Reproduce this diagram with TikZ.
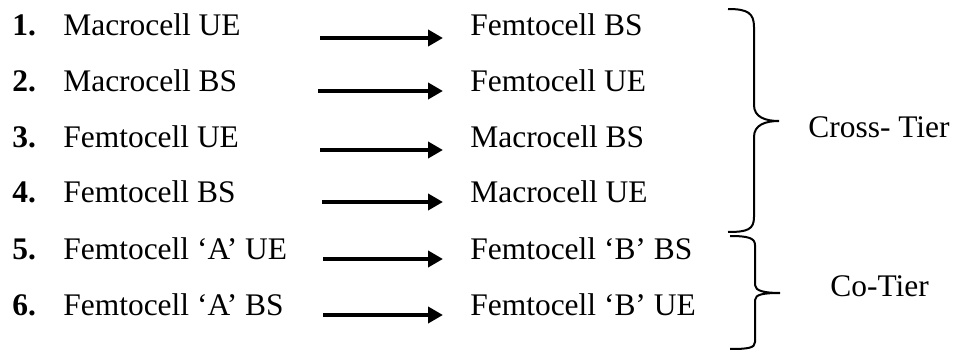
\documentclass[tikz,border=0pt]{standalone}
\usepackage{fontspec}
\setmainfont{Liberation Serif}
\usepackage{tikz}
\usetikzlibrary{arrows.meta}

\begin{document}
\begin{tikzpicture}[
    every node/.style={inner sep=0pt, font=\fontsize{17.9}{21}\selectfont},
    num/.style={anchor=base west, font=\fontsize{17.9}{21}\selectfont\bfseries},
    item/.style={anchor=base west},
    link/.style={line width=0.08cm, -{Triangle[length=0.3cm,width=0.32cm]}, shorten >=0.54cm},
    tier/.style={line width=0.04cm}
  ]
  \useasboundingbox (0,0) rectangle (19.1,7.04);

  % interferer side
  \node[num]  (n1) at (0.24,6.32) {1.};
  \node[item] (src1) at (1.26,6.32) {Macrocell UE};
  \node[num]  (n2) at (0.24,5.20) {2.};
  \node[item] (src2) at (1.26,5.20) {Macrocell BS};
  \node[num]  (n3) at (0.24,4.08) {3.};
  \node[item] (src3) at (1.26,4.08) {Femtocell UE};
  \node[num]  (n4) at (0.24,2.98) {4.};
  \node[item] (src4) at (1.26,2.98) {Femtocell BS};
  \node[num]  (n5) at (0.24,1.84) {5.};
  \node[item] (src5) at (1.26,1.84) {Femtocell `A' UE};
  \node[num]  (n6) at (0.24,0.72) {6.};
  \node[item] (src6) at (1.26,0.72) {Femtocell `A' BS};

  % victim side
  \node[item] (dst1) at (9.4,6.32) {Femtocell BS};
  \node[item] (dst2) at (9.4,5.20) {Femtocell UE};
  \node[item] (dst3) at (9.4,4.08) {Macrocell BS};
  \node[item] (dst4) at (9.4,2.98) {Macrocell UE};
  \node[item] (dst5) at (9.4,1.84) {Femtocell `B' BS};
  \node[item] (dst6) at (9.4,0.72) {Femtocell `B' UE};

  % arrows
  \coordinate (s1) at (6.40,6.28);
  \coordinate (s2) at (6.36,5.22);
  \coordinate (s3) at (6.40,4.04);
  \coordinate (s4) at (6.44,3.00);
  \coordinate (s5) at (6.46,1.86);
  \coordinate (s6) at (6.46,0.74);
  \draw[link] (s1) -- (s1 -| dst1.west);
  \draw[link] (s2) -- (s2 -| dst2.west);
  \draw[link] (s3) -- (s3 -| dst3.west);
  \draw[link] (s4) -- (s4 -| dst4.west);
  \draw[link] (s5) -- (s5 -| dst5.west);
  \draw[link] (s6) -- (s6 -| dst6.west);

  % braces
  \draw[tier] (14.56,6.86) .. controls +(0.39,0) and +(0,0.28) .. ++(0.52,-0.36)
    -- (15.08,4.94) .. controls +(0,-0.24) and +(-0.28,0) .. ++(0.5,-0.32)
    .. controls +(-0.28,0) and +(0,0.24) .. ++(-0.5,-0.32)
    -- (15.08,2.7) .. controls +(0,-0.25) and +(0.39,0) .. ++(-0.52,-0.3);
  \draw[tier] (14.60,2.32) .. controls +(0.36,0) and +(0,0.14) .. ++(0.5,-0.18)
    -- (15.10,1.34) .. controls +(0,-0.12) and +(-0.3,0) .. ++(0.5,-0.16)
    .. controls +(-0.3,0) and +(0,0.12) .. ++(-0.5,-0.14)
    -- (15.10,0.2) .. controls +(0,-0.12) and +(0.36,0) .. ++(-0.5,-0.14);
  \node[item] (cross) at (16.16,4.28) {Cross- Tier};
  \node[item] (co) at (16.60,1.12) {Co-Tier};
\end{tikzpicture}
\end{document}
